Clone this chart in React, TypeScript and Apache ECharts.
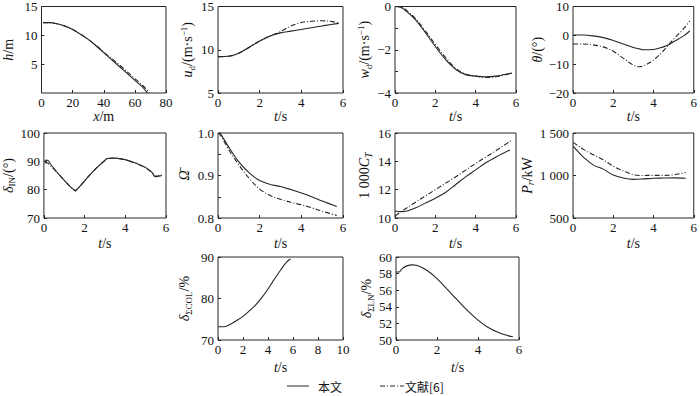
import React, { useEffect, useRef } from "react";
import * as echarts from "echarts";

// ---------- data ----------
// (1) h vs x
const p1SolidX = [1, 5, 10, 15, 20, 25, 30, 35, 40, 45, 50, 55, 60, 65, 68];
const p1SolidH = [12.2, 12.2, 12.0, 11.6, 11.0, 10.2, 9.3, 8.2, 7.0, 5.8, 4.6, 3.4, 2.2, 1.0, 0];
const p1DashX = [1, 5, 10, 15, 20, 25, 30, 35, 40, 45, 50, 55, 60, 65, 69.5];
const p1DashH = [12.2, 12.2, 12.0, 11.6, 11.0, 10.2, 9.3, 8.3, 7.1, 6.0, 4.9, 3.7, 2.5, 1.3, 0];
// (2) u_d
const t2 = [0, 0.5, 1, 1.5, 2, 2.5, 3, 3.5, 4, 4.5, 5, 5.5, 5.8];
const p2Solid = [9.2, 9.25, 9.6, 10.3, 11.0, 11.6, 11.95, 12.15, 12.35, 12.55, 12.75, 12.95, 13.05];
const p2Dash = [9.2, 9.25, 9.6, 10.3, 11.0, 11.6, 12.1, 12.75, 13.15, 13.3, 13.35, 13.25, 13.1];
// (3) w_d
const t3 = [0, 0.3, 0.6, 1, 1.5, 2, 2.5, 3, 3.5, 4, 4.5, 5, 5.5, 5.8];
const p3Solid = [0, -0.05, -0.25, -0.6, -1.2, -1.85, -2.45, -2.9, -3.15, -3.22, -3.25, -3.22, -3.13, -3.08];
const p3Dash = [0, -0.02, -0.2, -0.55, -1.12, -1.75, -2.35, -2.85, -3.12, -3.22, -3.28, -3.25, -3.15, -3.08];
// (4) theta
const t4 = [0, 0.5, 1, 1.5, 2, 2.5, 3, 3.3, 3.5, 4, 4.5, 4.75, 5, 5.5, 5.8];
const p4Solid = [0.1, 0.1, -0.2, -0.8, -1.8, -3.0, -4.2, -4.7, -5.0, -4.9, -4.0, -3.3, -2.2, -0.2, 1.5];
const p4Dash = [-3.0, -3.0, -3.3, -4.0, -5.5, -8.0, -10.3, -10.9, -10.6, -8.6, -5.3, -3.3, -1.3, 2.3, 5.0];
// (5) delta_IN
const t5 = [0.05, 0.12, 0.22, 0.35, 0.6, 1.0, 1.3, 1.55, 1.8, 2.2, 2.6, 3.1, 3.5, 4.0, 4.5, 5.0, 5.3, 5.45, 5.6, 5.8];
const p5Solid = [90.2, 90.5, 90.2, 88.8, 86.5, 83.3, 81.0, 79.5, 81.4, 84.8, 87.8, 91.0, 91.2, 90.6, 89.4, 87.8, 86.2, 84.6, 84.7, 85.0];
const p5Dash = [89.3, 89.6, 89.2, 88.3, 86.5, 83.3, 81.0, 79.6, 81.4, 84.8, 87.8, 91.0, 91.2, 90.6, 89.4, 87.8, 86.2, 84.8, 84.9, 85.1];
// (6) Omega
const t6 = [0, 0.1, 0.5, 1, 1.5, 2, 2.5, 3, 3.5, 4, 4.5, 5, 5.7];
const p6Solid = [1.005, 1.0, 0.968, 0.932, 0.906, 0.888, 0.879, 0.874, 0.867, 0.859, 0.85, 0.84, 0.827];
const p6Dash = [1.0, 0.996, 0.962, 0.925, 0.893, 0.868, 0.853, 0.844, 0.837, 0.831, 0.824, 0.816, 0.806];
// (7) 1000 C_T
const t7 = [0, 0.3, 0.6, 1, 1.5, 2, 2.5, 3, 3.5, 4, 4.5, 5, 5.7];
const p7Solid = [10.5, 10.45, 10.5, 10.7, 11.05, 11.4, 11.8, 12.35, 12.9, 13.4, 13.9, 14.3, 14.8];
const t7d = [0, 0.3, 0.6, 1, 1.5, 2, 2.5, 3, 3.5, 4, 4.5, 5, 5.8];
const p7Dash = [10.15, 10.45, 10.72, 11.1, 11.55, 12.0, 12.45, 12.9, 13.38, 13.85, 14.3, 14.75, 15.5];
// (8) P_r
const t8 = [0, 0.25, 0.5, 1, 1.5, 2, 2.5, 3, 3.5, 4, 4.5, 5, 5.6];
const p8Solid = [1345, 1280, 1220, 1125, 1075, 1005, 970, 955, 960, 968, 970, 972, 968];
const p8Dash = [1390, 1350, 1310, 1245, 1185, 1110, 1055, 1010, 1000, 1002, 1002, 1008, 1035];
// (9) delta_COL
const t9 = [0, 0.5, 1, 1.5, 2, 2.5, 3, 3.5, 4, 4.5, 5, 5.5, 5.8];
const p9Solid = [73.2, 73.2, 73.8, 74.7, 75.7, 77.0, 78.4, 80.2, 82.3, 84.6, 86.8, 88.8, 89.5];
// (10) delta_LN
const t10 = [0, 0.15, 0.3, 0.5, 0.8, 1.0, 1.5, 2, 2.5, 3, 3.5, 4, 4.5, 5, 5.5, 5.7];
const p10Solid = [58.2, 58.2, 58.6, 58.9, 59.05, 59.0, 58.4, 57.4, 56.1, 54.8, 53.5, 52.4, 51.5, 50.9, 50.5, 50.4];

const legendNames = ["本文", "文献[6]"];

// ---------- layout / style ----------
const FONT = "Liberation Serif, Times New Roman, serif";
const CJK = "Noto Sans CJK SC, sans-serif";
const INK = "#262626";
const TXT = "#111";

const grids = [
  { left: 41, top: 6, width: 125, height: 87 },
  { left: 218, top: 6, width: 125, height: 87 },
  { left: 395, top: 6, width: 121, height: 87 },
  { left: 573, top: 6, width: 124, height: 87 },
  { left: 41, top: 133, width: 125, height: 85 },
  { left: 218, top: 133, width: 125, height: 85 },
  { left: 395, top: 133, width: 121, height: 85 },
  { left: 573, top: 133, width: 124, height: 85 },
  { left: 218, top: 257, width: 125, height: 83 },
  { left: 396, top: 257, width: 123, height: 83 },
];

const rich = {
  i: { fontStyle: "italic", fontSize: 14, fontFamily: FONT, color: TXT, lineHeight: 17 },
  sub: { fontSize: 9, fontFamily: FONT, color: TXT, verticalAlign: "bottom", lineHeight: 9 },
  subi: { fontSize: 10, fontStyle: "italic", fontFamily: FONT, color: TXT, verticalAlign: "bottom", lineHeight: 10 },
  sup: { fontSize: 9, fontFamily: FONT, color: TXT, verticalAlign: "top", lineHeight: 9 },
};

const minus = (v: number) => (v < 0 ? "\u2212" + Math.abs(v) : String(v));

type AxisSpec = {
  min: number; max: number; interval: number;
  name: string; gap: number;
  fmt?: (v: number) => string; hideMin?: boolean;
};

const xSpecs: AxisSpec[] = [
  { min: 0, max: 80, interval: 20, name: "{i|x}/m", gap: 15 },
  { min: 0, max: 6, interval: 2, name: "{i|t}/s", gap: 15 },
  { min: 0, max: 6, interval: 2, name: "{i|t}/s", gap: 15 },
  { min: 0, max: 6, interval: 2, name: "{i|t}/s", gap: 15 },
  { min: 0, max: 6, interval: 2, name: "{i|t}/s", gap: 17 },
  { min: 0, max: 6, interval: 2, name: "{i|t}/s", gap: 17 },
  { min: 0, max: 6, interval: 2, name: "{i|t}/s", gap: 17 },
  { min: 0, max: 6, interval: 2, name: "{i|t}/s", gap: 17 },
  { min: 0, max: 10, interval: 2, name: "{i|t}/s", gap: 19 },
  { min: 0, max: 6, interval: 2, name: "{i|t}/s", gap: 19 },
];

const ySpecs: AxisSpec[] = [
  { min: 0, max: 15, interval: 5, name: "{i|h}/m", gap: 25, hideMin: true },
  { min: 5, max: 15, interval: 5, name: "{i|u}{sub|d}/(m·s{sup|\u22121})", gap: 22 },
  {
    min: -4, max: 0, interval: 1, name: "{i|w}{sub|d}/(m·s{sup|\u22121})", gap: 19,
    fmt: (v) => (Math.round(v) % 2 === 0 ? minus(v) : ""),
  },
  { min: -20, max: 10, interval: 10, name: "{i|θ}/(°)", gap: 23, fmt: minus },
  { min: 70, max: 100, interval: 10, name: "{i|δ}{sub|IN}/(°)", gap: 25 },
  {
    min: 0.8, max: 1.0, interval: 0.05, name: "{i|Ω\u0304}", gap: 25,
    fmt: (v) => (Math.abs(v * 10 - Math.round(v * 10)) < 1e-6 ? v.toFixed(1) : ""),
  },
  { min: 10, max: 16, interval: 2, name: "1 000{i|C}{subi|T}", gap: 22 },
  {
    min: 500, max: 1500, interval: 500, name: "{i|P}{subi|r}/kW", gap: 31,
    fmt: (v) => (v >= 1000 ? `${Math.floor(v / 1000)} ${String(v % 1000).padStart(3, "0")}` : String(v)),
  },
  { min: 70, max: 90, interval: 10, name: "{i|δ}{sub|ΣCOL}/%", gap: 25 },
  { min: 50, max: 60, interval: 2, name: "{i|δ}{sub|ΣLN}/%", gap: 21 },
];

const zip = (xs: number[], ys: number[]) => xs.map((x, k) => [x, ys[k]]);

const DASHDOT = [5, 2, 1, 2];

function line(idx: number, name: string, xs: number[], ys: number[], dashed: boolean, smooth: number | boolean = 0.35) {
  return {
    type: "line",
    name,
    xAxisIndex: idx,
    yAxisIndex: idx,
    data: zip(xs, ys),
    symbol: "none",
    showSymbol: false,
    smooth,
    itemStyle: { color: INK },
    lineStyle: { color: INK, width: 1.1, type: dashed ? DASHDOT : "solid" },
    z: dashed ? 3 : 4,
  };
}

function buildOption() {
  const xAxis = xSpecs.map((s, k) => ({
    type: "value",
    gridIndex: k,
    min: s.min,
    max: s.max,
    interval: s.interval,
    name: s.name,
    nameLocation: "middle",
    nameGap: s.gap,
    nameTextStyle: { fontFamily: FONT, fontSize: 14, color: TXT, rich },
    axisLine: { show: false, onZero: false },
    axisTick: { show: true, inside: true, length: 3, lineStyle: { color: INK, width: 1 } },
    axisLabel: { margin: 3, fontSize: 13, fontFamily: FONT, color: TXT },
    splitLine: { show: false },
  }));
  const yAxis = ySpecs.map((s, k) => ({
    type: "value",
    gridIndex: k,
    min: s.min,
    max: s.max,
    interval: s.interval,
    name: s.name,
    nameLocation: "middle",
    nameRotate: 90,
    nameGap: s.gap,
    nameTextStyle: { fontFamily: FONT, fontSize: 14, color: TXT, rich },
    axisLine: { show: false, onZero: false },
    axisTick: { show: true, inside: true, length: 3, lineStyle: { color: INK, width: 1 } },
    axisLabel: {
      margin: 4,
      fontSize: 13,
      fontFamily: FONT,
      color: TXT,
      showMinLabel: s.hideMin ? false : true,
      formatter: s.fmt ? (v: number) => s.fmt!(v) : (v: number) => String(v),
    },
    splitLine: { show: false },
  }));
  const [S, D] = legendNames;
  const series = [
    line(0, S, p1SolidX, p1SolidH, false),
    line(0, D, p1DashX, p1DashH, true),
    line(1, S, t2, p2Solid, false),
    line(1, D, t2, p2Dash, true),
    line(2, S, t3, p3Solid, false),
    line(2, D, t3, p3Dash, true),
    line(3, S, t4, p4Solid, false),
    line(3, D, t4, p4Dash, true),
    line(4, S, t5, p5Solid, false, false),
    line(4, D, t5, p5Dash, true, false),
    line(5, S, t6, p6Solid, false),
    line(5, D, t6, p6Dash, true),
    line(6, S, t7, p7Solid, false),
    line(6, D, t7d, p7Dash, true),
    line(7, S, t8, p8Solid, false),
    line(7, D, t8, p8Dash, true),
    line(8, S, t9, p9Solid, false),
    line(9, S, t10, p10Solid, false),
  ];
  const LY = 386;
  const legendGraphic = [
    { type: "line", shape: { x1: 287, y1: LY, x2: 309, y2: LY }, style: { stroke: INK, lineWidth: 1 } },
    {
      type: "text", x: 318, y: LY,
      style: { text: S, fontFamily: CJK, fontSize: 12, fill: TXT, textVerticalAlign: "middle", textAlign: "left" },
    },
    { type: "line", shape: { x1: 380, y1: LY, x2: 404, y2: LY }, style: { stroke: INK, lineWidth: 1, lineDash: DASHDOT } },
    {
      type: "text", x: 405, y: LY,
      style: { text: D, fontFamily: CJK, fontSize: 12, fill: TXT, textVerticalAlign: "middle", textAlign: "left" },
    },
  ];
  return {
    animation: false,
    backgroundColor: "#fff",
    grid: grids.map((g) => ({ ...g, show: true, borderColor: INK, borderWidth: 1, backgroundColor: "transparent", containLabel: false })),
    xAxis,
    yAxis,
    graphic: legendGraphic,
    series,
  };
}

export default function App() {
  const ref = useRef<HTMLDivElement>(null);
  useEffect(() => {
    document.body.style.margin = "0";
    if (!ref.current) return;
    const chart = echarts.init(ref.current, undefined, { renderer: "svg" });
    chart.setOption(buildOption() as any);
    return () => chart.dispose();
  }, []);
  return <div ref={ref} style={{ width: 700, height: 396 }} />;
}
